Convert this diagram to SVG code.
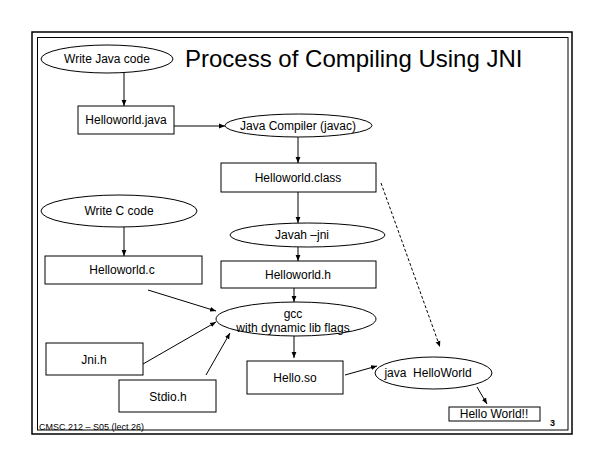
<svg xmlns="http://www.w3.org/2000/svg" width="605" height="468" viewBox="0 0 605 468">
<style>
.n{fill:#fff;stroke:#000;stroke-width:1}
.t{font-family:"Liberation Sans",Arial,sans-serif;font-size:12px;fill:#000;text-anchor:middle}
.c{fill:none;stroke:#000;stroke-width:1}
.d{stroke-dasharray:3,2}
</style>
<defs>
<marker id="a" viewBox="0 0 10 10" refX="10" refY="5" markerWidth="6" markerHeight="6" markerUnits="userSpaceOnUse" orient="auto">
<path d="M0,1 L10,5 L0,9 Z" fill="#000"/>
</marker>
</defs>
<rect width="605" height="468" fill="#fff"/>
<g id="frame">
<rect x="32" y="32" width="540" height="402" fill="none" stroke="#000" stroke-width="1.5"/>
<rect x="37.5" y="37.5" width="530.5" height="392.5" fill="none" stroke="#000" stroke-width="1"/>
</g>
<text id="title" x="185" y="67" style="font-family:'Liberation Sans',Arial,sans-serif;font-size:24px">Process of Compiling Using JNI</text>
<g id="connectors">
<line class="c" x1="124" y1="73" x2="124" y2="106" marker-end="url(#a)"/>
<line class="c" x1="174" y1="126" x2="225" y2="126" marker-end="url(#a)"/>
<line class="c" x1="298" y1="137" x2="298" y2="163" marker-end="url(#a)"/>
<line class="c" x1="298" y1="192" x2="298" y2="223" marker-end="url(#a)"/>
<line class="c d" x1="381" y1="183" x2="440" y2="347" marker-end="url(#a)"/>
<line class="c" x1="298" y1="247" x2="298" y2="261" marker-end="url(#a)"/>
<line class="c" x1="124" y1="227" x2="124" y2="256" marker-end="url(#a)"/>
<line class="c" x1="148" y1="290" x2="216" y2="311" marker-end="url(#a)"/>
<line class="c" x1="294" y1="288" x2="294" y2="302" marker-end="url(#a)"/>
<line class="c" x1="143" y1="364" x2="216" y2="322" marker-end="url(#a)"/>
<line class="c" x1="206" y1="375" x2="230" y2="333" marker-end="url(#a)"/>
<line class="c" x1="294" y1="336" x2="294" y2="358" marker-end="url(#a)"/>
<line class="c" x1="345" y1="375" x2="377" y2="366" marker-end="url(#a)"/>
<line class="c" x1="477" y1="387" x2="487" y2="404" marker-end="url(#a)"/>
</g>
<g id="write-java"><ellipse class="n" cx="107" cy="59" rx="66" ry="14"/><text class="t" x="107" y="63">Write Java code</text></g>
<g id="helloworld-java"><rect class="n" x="78" y="106" width="96" height="28"/><text class="t" x="126" y="124">Helloworld.java</text></g>
<g id="javac"><ellipse class="n" cx="298.5" cy="125.5" rx="73.5" ry="11.5"/><text class="t" x="298" y="130">Java Compiler (javac)</text></g>
<g id="helloworld-class"><rect class="n" x="221" y="163" width="155" height="29"/><text class="t" x="298" y="182">Helloworld.class</text></g>
<g id="javah"><ellipse class="n" cx="307.5" cy="235" rx="77.5" ry="12"/><text class="t" x="302" y="239">Javah –jni</text></g>
<g id="helloworld-h"><rect class="n" x="221" y="261" width="155" height="27"/><text class="t" x="298" y="279">Helloworld.h</text></g>
<g id="write-c"><ellipse class="n" cx="119" cy="211" rx="78" ry="16"/><text class="t" x="119" y="215">Write C code</text></g>
<g id="helloworld-c"><rect class="n" x="45" y="256" width="157" height="28"/><text class="t" x="122" y="274">Helloworld.c</text></g>
<g id="gcc"><ellipse class="n" cx="296" cy="319" rx="80" ry="17"/><text class="t" x="293" y="318">gcc</text><text class="t" x="293" y="332">with dynamic lib flags</text></g>
<g id="jni-h"><rect class="n" x="46" y="343" width="97" height="32"/><text class="t" x="94" y="364">Jni.h</text></g>
<g id="stdio-h"><rect class="n" x="119" y="380" width="97" height="32"/><text class="t" x="168" y="401">Stdio.h</text></g>
<g id="hello-so"><rect class="n" x="247" y="361" width="96" height="33"/><text class="t" x="295" y="382">Hello.so</text></g>
<g id="java-helloworld"><ellipse class="n" cx="433.5" cy="373" rx="58.5" ry="16"/><text class="t" x="428" y="377" xml:space="preserve">java  HelloWorld</text></g>
<g id="hello-world-out"><rect class="n" x="449" y="407" width="91" height="14"/><text class="t" x="494" y="418">Hello World!!</text></g>
<text id="footer" x="39" y="430" style="font-family:'Liberation Sans',Arial,sans-serif;font-size:9px">CMSC 212 – S05 (lect 26)</text>
<text id="page" x="550" y="426" style="font-family:'Liberation Sans',Arial,sans-serif;font-size:9px;font-weight:bold">3</text>
</svg>
